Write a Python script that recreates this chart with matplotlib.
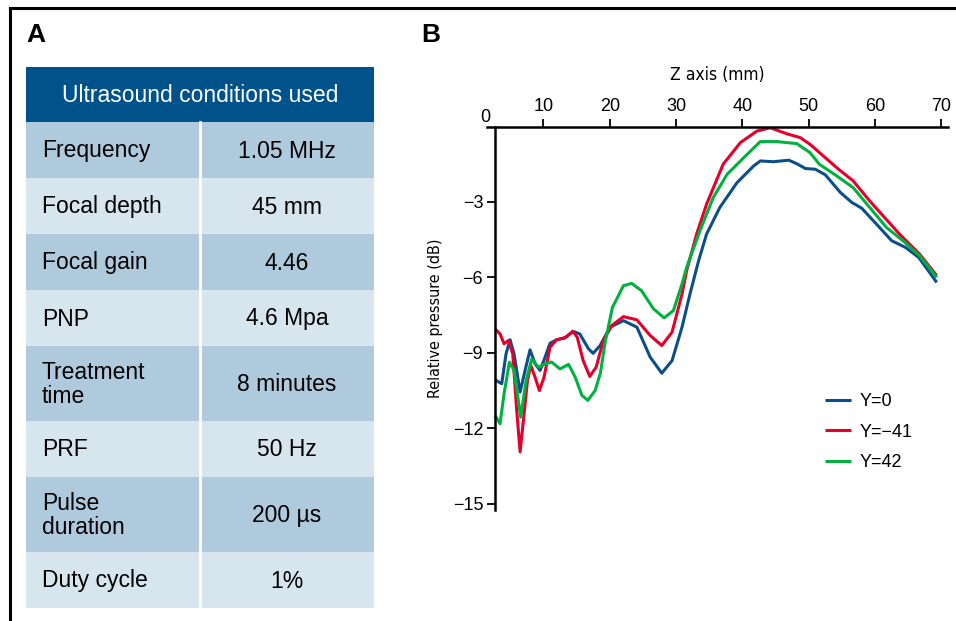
import numpy as np
import matplotlib
matplotlib.use('Agg')
import matplotlib.pyplot as plt
from matplotlib.patches import Rectangle
from matplotlib.lines import Line2D

plt.rcParams['font.family'] = ['Liberation Sans', 'DejaVu Sans']
plt.rcParams['axes.unicode_minus'] = True

# table (panel A)
header = 'Ultrasound conditions used'
params = ['Frequency', 'Focal depth', 'Focal gain', 'PNP', 'Treatment\ntime',
          'PRF', 'Pulse\nduration', 'Duty cycle']
values = ['1.05 MHz', '45 mm', '4.46', '4.6 Mpa', '8 minutes', '50 Hz',
          '200 µs', '1%']

# axial pressure profiles (panel B)
z_blue = [2.7, 3.72, 4.37, 4.98, 5.58, 6.49, 7.24, 7.99, 8.75, 9.5, 10.26, 11.0,
          12.0, 13.27, 14.52, 15.5, 16.8, 17.5, 18.55, 20.06, 22.07, 24.1, 26.1,
          27.85, 29.4, 30.9, 32.1, 33.4, 34.6, 36.6, 39.2, 41.7, 42.7, 44.7, 47.0,
          48.2, 49.5, 51.0, 52.5, 54.8, 56.5, 58.0, 60.0, 62.5, 64.6, 66.6, 69.3]
db_blue = [-10.07, -10.23, -9.04, -8.48, -9.04, -10.56, -9.70, -8.88, -9.44,
           -9.70, -9.17, -8.62, -8.48, -8.40, -8.15, -8.25, -8.84, -9.02, -8.71,
           -7.98, -7.72, -7.98, -9.17, -9.81, -9.31, -7.98, -6.66, -5.34, -4.28,
           -3.22, -2.23, -1.57, -1.37, -1.40, -1.34, -1.48, -1.67, -1.70, -1.92,
           -2.63, -3.02, -3.25, -3.82, -4.54, -4.81, -5.21, -6.2]

z_red = [2.7, 3.47, 4.07, 4.73, 5.38, 5.98, 6.49, 6.99, 7.6, 8.1, 8.75, 9.4,
         10.1, 11.0, 12.0, 13.27, 14.43, 15.1, 16.0, 17.0, 17.95, 19.05, 20.3,
         22.07, 24.1, 26.1, 27.85, 29.4, 30.9, 31.6, 33.1, 34.6, 37.1, 39.7, 42.2,
         44.2, 46.7, 48.7, 50.2, 52.2, 54.5, 56.7, 59.2, 61.2, 63.7, 66.7, 69.3]
db_red = [-8.05, -8.25, -8.64, -8.51, -9.04, -11.29, -12.94, -11.69, -10.1,
          -9.5, -9.97, -10.5, -9.97, -8.78, -8.48, -8.40, -8.14, -8.38, -9.31,
          -9.94, -9.57, -8.51, -7.92, -7.56, -7.69, -8.31, -8.71, -8.18, -6.66,
          -5.73, -4.28, -3.09, -1.5, -0.64, -0.18, -0.05, -0.29, -0.44, -0.71,
          -1.17, -1.7, -2.16, -2.96, -3.55, -4.28, -5.07, -5.93]

z_green = [2.7, 3.47, 4.07, 4.88, 5.58, 6.58, 7.4, 8.25, 9.25, 10.26, 11.26, 12.5,
           13.8, 14.8, 15.8, 16.7, 17.8, 18.6, 19.3, 20.4, 22.07, 23.3, 24.8,
           26.6, 28.2, 29.6, 30.9, 31.6, 33.6, 35.6, 37.7, 40.2, 42.7, 45.2, 48.2,
           50.2, 51.6, 54.2, 56.7, 59.2, 61.7, 64.2, 66.7, 69.3]
db_green = [-11.49, -11.82, -10.63, -9.37, -9.70, -11.56, -10.1, -9.24, -9.57,
            -9.44, -9.37, -9.64, -9.46, -9.97, -10.69, -10.89, -10.5, -9.8, -8.6,
            -7.2, -6.33, -6.24, -6.53, -7.25, -7.61, -7.32, -6.26, -5.6, -4.15,
            -2.83, -1.9, -1.24, -0.6, -0.6, -0.68, -1.04, -1.5, -1.96, -2.43,
            -3.22, -4.01, -4.54, -5.13, -6.0]

series = [('Y=0', z_blue, db_blue, '#0b4f8a'),
          ('Y=\u221241', z_red, db_red, '#e4002b'),
          ('Y=42', z_green, db_green, '#00b140')]

W, H = 956, 621
fig = plt.figure(figsize=(W / 100, H / 100), dpi=100)

# pixel-space overlay for frame, table and panel letters
bg = fig.add_axes([0, 0, 1, 1])
bg.set_xlim(0, W)
bg.set_ylim(H, 0)
bg.axis('off')

bg.add_line(Line2D([10.5, W], [7.5, 7.5], color='black', lw=2.2))
bg.add_line(Line2D([10.5, 10.5], [7.5, H], color='black', lw=2.2))

bg.text(26, 35, 'A', fontsize=19, fontweight='bold', va='center', ha='left')
bg.text(421, 35, 'B', fontsize=19, fontweight='bold', va='center', ha='left')

tx0, tx1, tsplit = 26, 374, 200
bg.add_patch(Rectangle((tx0, 67), tx1 - tx0, 55, color='#00528a', lw=0))
bg.text((tx0 + tx1) / 2, 95, header, color='white', fontsize=16.5,
        ha='center', va='center')

dark, light = '#afcadd', '#d7e5ee'
y = 122
for i, (p, v) in enumerate(zip(params, values)):
    h = 75 if '\n' in p else 56
    bg.add_patch(Rectangle((tx0, y), tx1 - tx0, h,
                           color=dark if i % 2 == 0 else light, lw=0))
    bg.text(42, y + h / 2 + 1, p, fontsize=16.5, ha='left', va='center',
            linespacing=1.1)
    bg.text((tsplit + tx1) / 2, y + h / 2 + 1, v, fontsize=16.5, ha='center',
            va='center')
    y += h
bg.add_line(Line2D([tsplit, tsplit], [122, y], color='white', lw=2))

# panel B
ax = fig.add_axes([487 / W, 1 - 510 / H, (948 - 487) / W, (510 - 126.5) / H])
for lab, z, d, c in series:
    ax.plot(z, d, color=c, lw=2.2, label=lab, solid_joinstyle='round',
            solid_capstyle='butt')

ax.set_xlim(1.5, 71.0)
ax.set_ylim(-15.25, 0)
ax.spines['bottom'].set_visible(False)
ax.spines['right'].set_visible(False)
ax.spines['left'].set_position(('data', 2.7))
ax.spines['left'].set_linewidth(1.8)
ax.spines['top'].set_linewidth(1.8)
ax.xaxis.tick_top()
ax.xaxis.set_label_position('top')
ax.set_xticks(range(10, 71, 10))
ax.set_yticks([-3, -6, -9, -12, -15])
ax.tick_params(axis='both', length=5.5, width=1.3, labelsize=13, pad=3)
ax.text(1.2, 1.0, '0', transform=ax.get_xaxis_transform(), fontsize=13,
        ha='center', va='bottom')

ax.set_xlabel('Z axis (mm)', fontsize=12.5, family='DejaVu Sans',
              fontstretch='condensed', labelpad=13)
ax.set_ylabel('Relative pressure (dB)', fontsize=11.5, family='DejaVu Sans',
              fontstretch='condensed', labelpad=7)

ax.legend(loc='upper left', bbox_to_anchor=(809 / W, 1 - 377 / H),
          bbox_transform=fig.transFigure, frameon=False, fontsize=13,
          handlelength=1.4, handletextpad=0.5, labelspacing=0.75)

fig.savefig('out.png', dpi=100)
